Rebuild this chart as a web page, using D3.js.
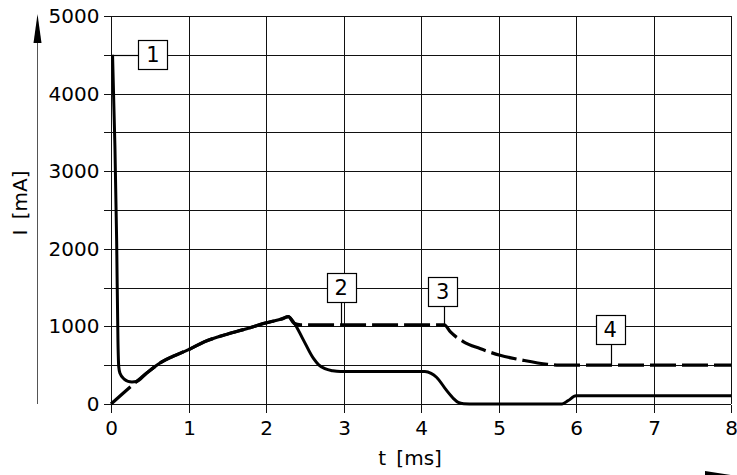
<!DOCTYPE html>
<html>
<head>
<meta charset="utf-8">
<script src="https://cdn.jsdelivr.net/npm/d3@7/dist/d3.min.js"></script>
<style>
html,body{margin:0;padding:0;background:#fff;}
svg{display:block;}
text{font-family:"DejaVu Sans",sans-serif;fill:#000;}
</style>
</head>
<body>
<div id="chart"></div>
<script>
// ---- data ----
const xTicks = [0, 1, 2, 3, 4, 5, 6, 7, 8];
const yTicks = [0, 500, 1000, 1500, 2000, 2500, 3000, 3500, 4000, 4500, 5000];
const yLabelTicks = [0, 1000, 2000, 3000, 4000, 5000];
const xTitle = "t [ms]";
const yTitle = "I [mA]";

// solid curve (t in ms, I in mA)
const solidT = [0.02, 0.073, 0.09, 0.1, 0.116, 0.17, 0.22, 0.27, 0.33, 0.45, 0.65, 0.8, 1.0, 1.2, 1.5, 1.75, 2.0, 2.2, 2.29, 2.36, 2.48, 2.61, 2.68, 2.76, 2.86, 2.96, 3.5, 4.05, 4.13, 4.2, 4.33, 4.42, 4.48, 4.55, 4.7, 5.0, 5.5, 5.82, 5.9, 6.0, 6.1, 6.5, 7.0, 7.5, 8.0];
const solidI = [4500, 2100, 800, 480, 395, 320, 292, 285, 290, 390, 540, 615, 700, 800, 900, 970, 1045, 1095, 1125, 1050, 830, 590, 505, 455, 428, 418, 420, 418, 395, 345, 175, 70, 20, 3, 0, 0, 0, 0, 45, 105, 105, 105, 105, 105, 105];

// dashed curve
const dashT = [0, 0.33, 0.45, 0.65, 0.8, 1.0, 1.2, 1.5, 1.75, 2.0, 2.2, 2.29, 2.36, 2.45, 3.0, 4.0, 4.3, 4.38, 4.55, 4.76, 5.02, 5.32, 5.63, 5.78, 6.0, 7.0, 8.0];
const dashI = [0, 290, 390, 540, 615, 700, 800, 900, 970, 1045, 1095, 1125, 1040, 1020, 1020, 1020, 1020, 929, 800, 714, 628, 563, 512, 500, 500, 500, 500];

// numbered call-outs: anchor point on curve and box centre
const calloutLabels = ["1", "2", "3", "4"];
const calloutAnchorT = [0.02, 2.97, 4.30, 6.45];
const calloutAnchorI = [4500, 1020, 1020, 500];
const calloutBoxT = [0.54, 2.97, 4.28, 6.44];
const calloutBoxI = [4500, 1500, 1450, 955];

// ---- layout ----
const W = 737, H = 475;
const m = {left: 111, right: 6, top: 16, bottom: 71};
const svg = d3.select("#chart").append("svg").attr("width", W).attr("height", H);

const x = d3.scaleLinear().domain([0, 8]).range([m.left, W - m.right]);
const y = d3.scaleLinear().domain([0, 5000]).range([H - m.bottom, m.top]);

const FS = 20;

// grid
const grid = svg.append("g").attr("stroke", "#111").attr("stroke-width", 1).attr("shape-rendering", "crispEdges");
grid.selectAll("line.h").data(yTicks).join("line")
  .attr("x1", x(0)).attr("x2", x(8))
  .attr("y1", d => Math.round(y(d)) + 0.5).attr("y2", d => Math.round(y(d)) + 0.5);
grid.selectAll("line.v").data(xTicks).join("line")
  .attr("y1", y(5000)).attr("y2", y(0))
  .attr("x1", d => Math.round(x(d)) + 0.5).attr("x2", d => Math.round(x(d)) + 0.5);

// axes (ticks + labels)
const yAxis = d3.axisLeft(y).tickValues(yTicks).tickSize(8).tickPadding(4)
  .tickFormat(d => yLabelTicks.includes(d) ? String(d) : "");
const gy = svg.append("g").attr("transform", `translate(${Math.round(x(0)) + 0.5},0)`).call(yAxis);
const xAxis = d3.axisBottom(x).tickValues(xTicks).tickSize(8).tickPadding(8).tickFormat(d => String(d));
const gx = svg.append("g").attr("transform", `translate(0,${Math.round(y(0)) + 0.5})`).call(xAxis);
[gx, gy].forEach(g => {
  g.select(".domain").remove();
  g.selectAll(".tick line").attr("stroke", "#111").attr("shape-rendering", "crispEdges");
  g.selectAll(".tick text").attr("font-size", FS).attr("font-family", "DejaVu Sans").attr("fill", "#000");
});
gy.selectAll(".tick").attr("transform", d => `translate(0,${Math.round(y(d)) + 0.5})`);
gx.selectAll(".tick").attr("transform", d => `translate(${Math.round(x(d)) + 0.5},0)`);

// y axis arrow
const ax = 37.5;
svg.append("line").attr("x1", ax).attr("x2", ax).attr("y1", 40).attr("y2", y(0))
  .attr("stroke", "#555").attr("stroke-width", 1);
svg.append("path").attr("d", `M${ax},14 L${ax + 4},43 L${ax - 4},43 Z`).attr("fill", "#000");

// x axis arrow (cut at bottom edge)
svg.append("path").attr("d", `M${W - 32},471 L${W - 3},475.5 L${W - 32},484 Z`).attr("fill", "#000");

// titles
svg.append("text").attr("x", 410).attr("y", 465).attr("text-anchor", "middle")
  .attr("font-size", FS).attr("word-spacing", 4).text(xTitle);
svg.append("text").attr("transform", "translate(27,203) rotate(-90)").attr("text-anchor", "middle")
  .attr("font-size", FS).attr("word-spacing", 4).text(yTitle);

// curves
const line = d3.line().x(d => x(d[0])).y(d => y(d[1])).curve(d3.curveMonotoneX);
const dashData = dashT.map((t, i) => [t, dashI[i]]);
const solidData = solidT.map((t, i) => [t, solidI[i]]);
svg.append("path").datum(dashData).attr("d", line).attr("fill", "none")
  .attr("stroke", "#000").attr("stroke-width", 3.2).attr("stroke-dasharray", "26,6");
svg.append("path").datum(solidData).attr("d", line).attr("fill", "none")
  .attr("stroke", "#000").attr("stroke-width", 3).attr("stroke-linejoin", "round");

// call-outs
const B = 29;
calloutLabels.forEach((lab, i) => {
  const axp = x(calloutAnchorT[i]), ayp = y(calloutAnchorI[i]);
  const bx = x(calloutBoxT[i]), by = y(calloutBoxI[i]);
  const g = svg.append("g");
  if (Math.abs(ayp - by) < 2) {
    g.append("line").attr("x1", axp).attr("x2", bx - B / 2).attr("y1", Math.round(by) + 0.5).attr("y2", Math.round(by) + 0.5)
      .attr("stroke", "#000").attr("stroke-width", 1.2);
  } else {
    g.append("line").attr("x1", Math.round(axp) + 0.5).attr("x2", Math.round(axp) + 0.5).attr("y1", by + B / 2).attr("y2", ayp)
      .attr("stroke", "#000").attr("stroke-width", 1.2);
  }
  g.append("rect").attr("x", Math.round(bx - B / 2) + 0.5).attr("y", Math.round(by - B / 2) + 0.5)
    .attr("width", B).attr("height", B).attr("fill", "#fff").attr("stroke", "#000").attr("stroke-width", 1.2);
  g.append("text").attr("x", bx).attr("y", by).attr("dy", "0.36em").attr("text-anchor", "middle")
    .attr("font-size", FS + 1).text(lab);
});
</script>
</body>
</html>
